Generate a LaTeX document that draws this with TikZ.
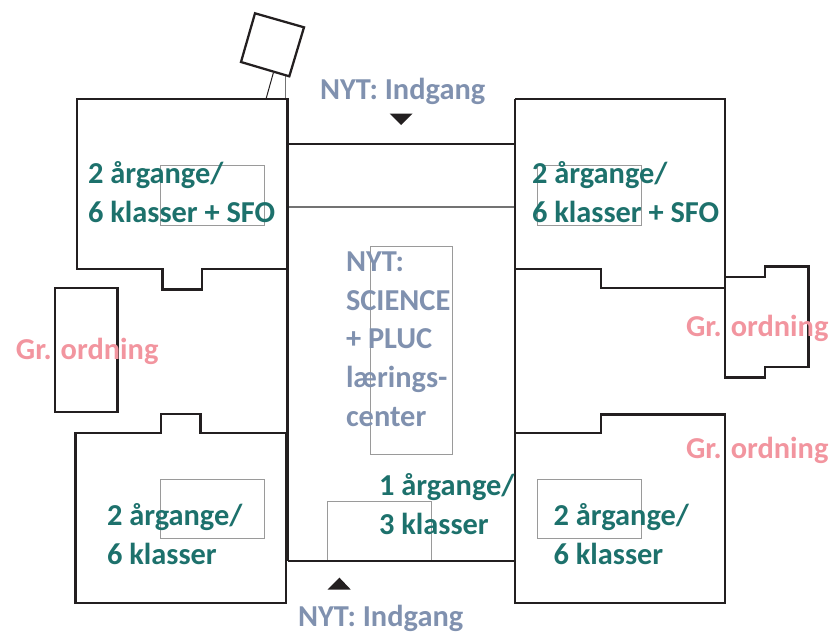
\documentclass[tikz,border=0pt]{standalone}
\usepackage{fontspec}
\setmainfont{Carlito}
\definecolor{wall}{HTML}{231F20}
\definecolor{inner}{HTML}{9A9A9A}
\definecolor{teal}{HTML}{1D716C}
\definecolor{slate}{HTML}{8091AF}
\definecolor{rose}{HTML}{F2959F}
\tikzset{
  wall/.style={draw=wall,line width=1.7pt,line join=miter},
  thinwall/.style={draw=wall,line width=0.75pt},
  innerbox/.style={draw=inner,line width=0.75pt},
  corr/.style={draw=black!55,line width=1pt},
  lab/.style={anchor=base west,inner sep=0pt,outer sep=0pt,align=left,font=\fontsize{22.8}{28.9}\selectfont\bfseries},
  room/.style={lab,text=teal},
  news/.style={lab,text=slate},
  gr/.style={lab,text=rose},
  tip/.style={fill=wall,draw=none}
}
\begin{document}
\begin{tikzpicture}[x=0.75pt,y=-0.75pt]
\useasboundingbox (0,0) rectangle (830,633);
% inner boxes
\draw[innerbox] (160.7,165) rectangle (264.5,225);
\draw[innerbox] (537,165) rectangle (641,225);
\draw[innerbox] (160.7,479) rectangle (264.5,538.5);
\draw[innerbox] (537,479) rectangle (641,538.5);
\draw[innerbox] (370.5,246) rectangle (452.5,454.5);
\draw[innerbox] (327,561) -- (327,501.5) -- (431,501.5) -- (431,561);
% corridor
\draw[corr] (287.5,207) -- (515,207);
\draw[wall] (287.5,561) -- (287.5,144) -- (515,144);
\draw[wall] (287.5,561) -- (515,561);
\draw[wall] (515,99) -- (515,603);
% tower
\coordinate (towerA) at (273.3,73);
\coordinate (towerB) at (266,99);
\coordinate (towerC) at (285.7,76);
\coordinate (towerD) at (285.7,99);
\draw[thinwall] (towerA) -- (towerB);
\draw[corr] (towerC) -- (towerD);
\draw[wall] (255,13.3) -- (304,27.3) -- (289.3,76.3) -- (241,62) -- cycle;
% buildings
\draw[wall] (77,99) -- (287.5,99) -- (287.5,269) -- (202,269) -- (202,289.5) -- (162.5,289.5) -- (162.5,269) -- (77,269) -- cycle;
\draw[wall] (515,99) -- (725,99) -- (725,288) -- (601,288) -- (601,269) -- (515,269);
\draw[wall] (55,288) rectangle (117.5,412);
\draw[wall] (725,277) -- (765,277) -- (765,266.5) -- (808.5,266.5) -- (808.5,367) -- (765.3,367) -- (765.3,377.5) -- (725,377.5) -- (725,288);
\draw[wall] (75.5,433.3) -- (161,433.3) -- (161,413.7) -- (200.5,413.7) -- (200.5,433.3) -- (286,433.3) -- (286,603) -- (75.5,603) -- cycle;
\draw[wall] (515,433.3) -- (601,433.3) -- (601,414.5) -- (725,414.5) -- (725,603) -- (515,603) -- cycle;
% entrances
\fill[tip] (389.5,113.5) -- (412.7,113.5) -- (401,125) -- cycle;
\fill[tip] (327.7,589.5) -- (350.7,589.5) -- (339.5,577.7) -- cycle;
% labels
\node[room] (r1) at (88,222) {2 årgange/\\6 klasser + SFO};
\node[room] (r2) at (532,222) {2 årgange/\\6 klasser + SFO};
\node[room] (r3) at (107,564) {2 årgange/\\6 klasser};
\node[room] (r4) at (553.5,564) {2 årgange/\\6 klasser};
\node[room] (r5) at (379,534) {1 årgange/\\3 klasser};
\node[news] (n1) at (320,99.5) {NYT: Indgang};
\node[news] (n2) at (298,626.5) {NYT: Indgang};
\node[news] (n3) at (346,426) {NYT:\\SCIENCE\\+ PLUC\\lærings-\\center};
\node[gr] (g1) at (16,359) {Gr. ordning};
\node[gr] (g2) at (686,336) {Gr. ordning};
\node[gr] (g3) at (686,458.7) {Gr. ordning};
\end{tikzpicture}
\end{document}
